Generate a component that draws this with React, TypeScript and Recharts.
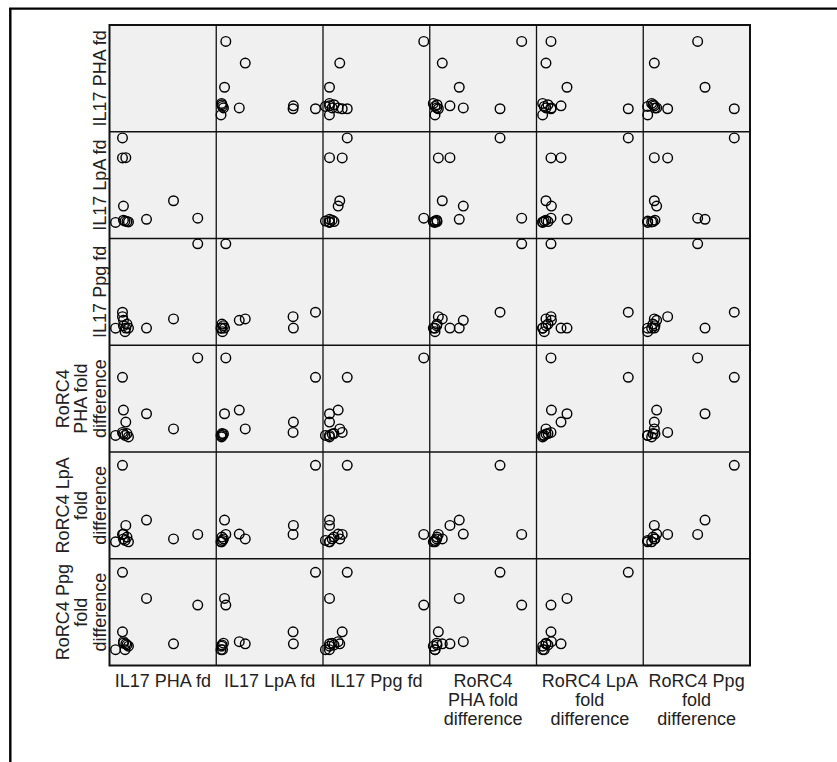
import React from 'react';
import { ScatterChart, Scatter, XAxis, YAxis } from 'recharts';

// One entry per case (respondent), values on a common 0–10 fold scale
const caseIds = ['P1', 'P2', 'P3', 'P4', 'P5', 'P6', 'P7', 'P8', 'K1', 'K2', 'K3', 'K4'];
const il17Pha = [8.22, 5.95, 3.42, 0.52, 1.17, 1.48, 1.17, 1.26, 1.41, 1.73, 1.26, 1.59];
const il17Lpa = [0.92, 2.74, 0.8, 0.47, 9.32, 7.25, 7.22, 2.18, 0.61, 0.52, 0.7, 0.56];
const il17Ppg = [9.44, 1.57, 0.61, 0.6, 2.27, 0.61, 1.8, 1.42, 0.23, 0.61, 0.86, 1.03];
const rorc4Pha = [8.59, 1.15, 2.74, 0.47, 6.56, 1.87, 0.78, 3.12, 0.47, 0.31, 0.63, 0.66];
const rorc4Lpa = [1.31, 0.84, 2.81, 0.53, 8.55, 2.25, 1.31, 1.35, 0.68, 0.53, 0.84, 1.03];
const rorc4Ppg = [5.12, 1.06, 5.81, 0.44, 8.55, 1.06, 2.31, 1.28, 0.44, 0.81, 1.12, 0.94];

const columnLabels = [
  ['IL17 PHA fd'],
  ['IL17 LpA fd'],
  ['IL17 Ppg fd'],
  ['RoRC4', 'PHA fold', 'difference'],
  ['RoRC4 LpA', 'fold', 'difference'],
  ['RoRC4 Ppg', 'fold', 'difference'],
];
const rowLabels = [
  ['IL17 PHA fd'],
  ['IL17 LpA fd'],
  ['IL17 Ppg fd'],
  ['RoRC4', 'PHA fold', 'difference'],
  ['RoRC4 LpA', 'fold', 'difference'],
  ['RoRC4 Ppg', 'fold', 'difference'],
];

const variables = [il17Pha, il17Lpa, il17Ppg, rorc4Pha, rorc4Lpa, rorc4Ppg];

const X_DOMAIN: [number, number] = [0, 10];
const Y_DOMAIN: [number, number] = [-1.24, 9.94];

const GRID_LEFT = 109.5;
const GRID_TOP = 25;
const CELL = 106.75;
const PAD = 8;
const N = 6;
const FONT = '"Liberation Sans", Arial, sans-serif';
const LINE_H = 18.7;

const Ring = (props: any) => {
  const { cx, cy } = props;
  if (cx == null || cy == null) return <g />;
  return <circle cx={cx} cy={cy} r={4.8} fill="none" stroke="#000" strokeWidth={1.4} />;
};

function cellData(r: number, c: number) {
  return caseIds.map((id, i) => ({ id, x: variables[c][i], y: variables[r][i] }));
}

export default function App() {
  const cells: React.ReactNode[] = [];
  for (let r = 0; r < N; r++) {
    for (let c = 0; c < N; c++) {
      if (r === c) continue;
      cells.push(
        <div
          key={`${r}-${c}`}
          style={{
            position: 'absolute',
            left: GRID_LEFT + c * CELL - PAD,
            top: GRID_TOP + r * CELL - PAD,
            width: CELL + 2 * PAD,
            height: CELL + 2 * PAD,
          }}
        >
          <ScatterChart
            width={CELL + 2 * PAD}
            height={CELL + 2 * PAD}
            margin={{ top: PAD, right: PAD, bottom: PAD, left: PAD }}
          >
            <XAxis type="number" dataKey="x" domain={X_DOMAIN} hide />
            <YAxis type="number" dataKey="y" domain={Y_DOMAIN} hide />
            <Scatter data={cellData(r, c)} shape={Ring} isAnimationActive={false} />
          </ScatterChart>
        </div>
      );
    }
  }

  const gridW = CELL * N;
  const innerLines: React.ReactNode[] = [];
  for (let i = 1; i < N; i++) {
    innerLines.push(
      <line key={`v${i}`} x1={GRID_LEFT + i * CELL} y1={GRID_TOP} x2={GRID_LEFT + i * CELL} y2={GRID_TOP + gridW} stroke="#111" strokeWidth={1.3} />
    );
    innerLines.push(
      <line key={`h${i}`} x1={GRID_LEFT} y1={GRID_TOP + i * CELL} x2={GRID_LEFT + gridW} y2={GRID_TOP + i * CELL} stroke="#111" strokeWidth={1.3} />
    );
  }

  return (
    <div style={{ position: 'absolute', left: 0, top: 0, width: 837, height: 762, background: '#fff', overflow: 'hidden' }}>
      <div
        style={{
          position: 'absolute',
          left: GRID_LEFT,
          top: GRID_TOP,
          width: gridW,
          height: gridW,
          background: '#f0f0f0',
        }}
      />
      <svg width={837} height={762} style={{ position: 'absolute', left: 0, top: 0 }}>
        <line x1={10.3} y1={8.6} x2={10.3} y2={762} stroke="#000" strokeWidth={2.4} />
        <line x1={9.1} y1={8.6} x2={837} y2={8.6} stroke="#000" strokeWidth={2.4} />
        {innerLines}
        <rect x={GRID_LEFT} y={GRID_TOP} width={gridW} height={gridW} fill="none" stroke="#111" strokeWidth={2} />
      </svg>
      {cells}
      <svg width={837} height={762} style={{ position: 'absolute', left: 0, top: 0, pointerEvents: 'none' }}>
        {columnLabels.map((lines, c) =>
          lines.map((t, j) => (
            <text
              key={`c${c}-${j}`}
              x={GRID_LEFT + (c + 0.5) * CELL}
              y={687.3 + j * LINE_H}
              textAnchor="middle"
              fontFamily={FONT}
              fontSize={18}
              fill="#222"
            >
              {t}
            </text>
          ))
        )}
        {rowLabels.map((lines, r) =>
          lines.map((t, j) => {
            const bx = 106 - (lines.length - 1 - j) * LINE_H;
            const cy = GRID_TOP + (r + 0.5) * CELL;
            return (
              <text
                key={`r${r}-${j}`}
                x={0}
                y={0}
                transform={`translate(${bx},${cy}) rotate(-90)`}
                textAnchor="middle"
                fontFamily={FONT}
                fontSize={18}
                fill="#222"
              >
                {t}
              </text>
            );
          })
        )}
      </svg>
    </div>
  );
}
